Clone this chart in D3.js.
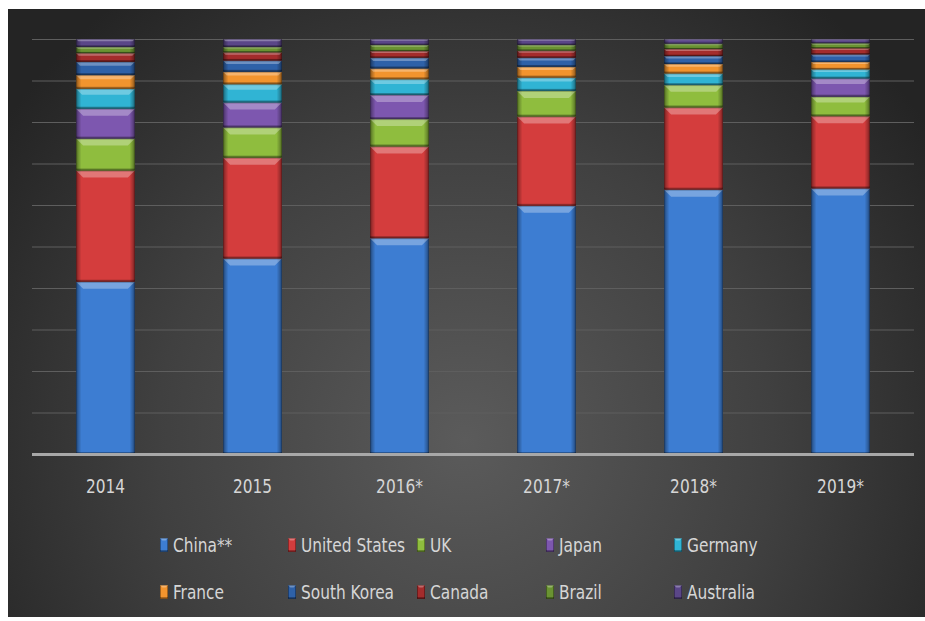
<!DOCTYPE html>
<html>
<head>
<meta charset="utf-8">
<script src="https://cdn.jsdelivr.net/npm/d3@7"></script>
<style>
  body { margin: 0; background: #fff; }
  svg text { font-family: 'DejaVu Sans Condensed', 'Liberation Sans', sans-serif; }
</style>
</head>
<body>
<div id="chart"></div>
<script>
const years = ['2014', '2015', '2016*', '2017*', '2018*', '2019*']
const countries = ['China**', 'United States', 'UK', 'Japan', 'Germany', 'France', 'South Korea', 'Canada', 'Brazil', 'Australia']

// share of each year (percent)
const china = [41.5, 47.1, 52.0, 59.8, 63.7, 64.0]
const unitedStates = [26.8, 24.3, 22.1, 21.5, 19.8, 17.4]
const uk = [7.7, 7.3, 6.6, 6.2, 5.4, 4.7]
const japan = [7.2, 6.0, 5.8, 0, 0, 4.4]
const germany = [4.8, 4.4, 3.8, 3.2, 2.8, 2.2]
const france = [3.3, 3.0, 2.6, 2.6, 2.3, 1.8]
const southKorea = [3.2, 2.7, 2.6, 2.2, 1.9, 1.8]
const canada = [2.1, 2.0, 1.6, 1.7, 1.7, 1.5]
const brazil = [1.5, 1.3, 1.5, 1.4, 1.3, 1.2]
const australia = [1.9, 1.9, 1.4, 1.4, 1.1, 1.0]

const yTicks = [0, 10, 20, 30, 40, 50, 60, 70, 80, 90, 100]

const seriesValues = [china, unitedStates, uk, japan, germany, france, southKorea, canada, brazil, australia]
const colors = ['#3d7dd2', '#d43d3d', '#8fbd3e', '#7d57af', '#30b4d4', '#f2942e', '#2e61a8', '#a42c2c', '#6a9332', '#5a4688']

const width = 925
const height = 621
const margin = { top: 39, right: 11, bottom: 167, left: 32 }

const table = years.map((yr, i) => {
  const row = { year: yr }
  countries.forEach((c, j) => { row[c] = seriesValues[j][i] })
  return row
})

const stacked = d3.stack().keys(countries)(table)

const color = d3.scaleOrdinal().domain(countries).range(colors)

const x = d3.scaleBand()
  .domain(years)
  .range([margin.left, width - margin.right])
  .paddingInner(0.6)
  .paddingOuter(0.3)

const y = d3.scaleLinear()
  .domain([0, 100])
  .range([height - margin.bottom, margin.top])

const svg = d3.select('#chart').append('svg')
  .attr('width', width)
  .attr('height', height)

const defs = svg.append('defs')

const bg = defs.append('radialGradient')
  .attr('id', 'bg')
  .attr('gradientUnits', 'userSpaceOnUse')
  .attr('cx', 465).attr('cy', 440).attr('r', 560)
bg.append('stop').attr('offset', 0).attr('stop-color', '#5b5b5b')
bg.append('stop').attr('offset', 0.55).attr('stop-color', '#404040')
bg.append('stop').attr('offset', 1).attr('stop-color', '#242424')

const side = defs.append('linearGradient')
  .attr('id', 'side')
  .attr('x1', 0).attr('x2', 1).attr('y1', 0).attr('y2', 0)
side.append('stop').attr('offset', 0).attr('stop-color', '#000').attr('stop-opacity', 0.4)
side.append('stop').attr('offset', 0.09).attr('stop-color', '#000').attr('stop-opacity', 0)
side.append('stop').attr('offset', 0.91).attr('stop-color', '#000').attr('stop-opacity', 0)
side.append('stop').attr('offset', 1).attr('stop-color', '#000').attr('stop-opacity', 0.4)

svg.append('rect')
  .attr('x', 8).attr('y', 9)
  .attr('width', width - 8).attr('height', 608)
  .attr('fill', 'url(#bg)')

// gridlines
svg.append('g')
  .selectAll('line')
  .data(yTicks.slice(1))
  .join('line')
  .attr('x1', margin.left)
  .attr('x2', width - margin.right)
  .attr('y1', d => y(d) + 0.5)
  .attr('y2', d => y(d) + 0.5)
  .attr('stroke', '#5e5e5e')
  .attr('stroke-width', 1)

const bevel = (g, bx, by, bw, bh, fill) => {
  if (bh <= 0) return
  g.append('rect')
    .attr('x', bx).attr('y', by)
    .attr('width', bw).attr('height', bh)
    .attr('fill', fill)
  g.append('rect')
    .attr('x', bx).attr('y', by)
    .attr('width', bw).attr('height', bh)
    .attr('fill', 'url(#side)')
  const b = Math.min(7, bh * 0.3, bw * 0.3)
  g.append('polygon')
    .attr('points', [[bx, by], [bx + bw, by], [bx + bw - b, by + b], [bx + b, by + b]].join(' '))
    .attr('fill', '#fff')
    .attr('fill-opacity', 0.3)
  g.append('rect')
    .attr('x', bx).attr('y', by + bh - Math.min(2, bh * 0.2))
    .attr('width', bw).attr('height', Math.min(2, bh * 0.2))
    .attr('fill', '#000')
    .attr('fill-opacity', 0.3)
  g.append('rect')
    .attr('x', bx + 0.5).attr('y', by + 0.5)
    .attr('width', bw - 1).attr('height', Math.max(0, bh - 1))
    .attr('fill', 'none')
    .attr('stroke', '#000')
    .attr('stroke-opacity', 0.25)
}

const bars = svg.append('g')
stacked.forEach(s => {
  s.forEach(d => {
    bevel(bars, x(d.data.year), y(d[1]), x.bandwidth(), y(d[0]) - y(d[1]), color(s.key))
  })
})

// baseline
svg.append('line')
  .attr('x1', margin.left)
  .attr('x2', width - margin.right)
  .attr('y1', y(0) + 0.5)
  .attr('y2', y(0) + 0.5)
  .attr('stroke', '#a8a8a8')
  .attr('stroke-width', 3)

const xAxis = svg.append('g')
  .attr('transform', `translate(0,${y(0)})`)
  .call(d3.axisBottom(x).tickSize(0).tickPadding(26))
xAxis.select('.domain').remove()
xAxis.selectAll('text')
  .attr('fill', '#d6d6d6')
  .attr('font-size', 19)
  .attr('transform', 'scale(0.9,1)')
  .style('font-family', "'DejaVu Sans Condensed', 'Liberation Sans', sans-serif")

// legend
const legendX = [160, 288, 417, 546, 674]
const legendY = [545, 592]
const legend = svg.append('g')
countries.forEach((c, i) => {
  const lx = legendX[i % 5]
  const ly = legendY[Math.floor(i / 5)]
  bevel(legend, lx, ly - 7, 8, 14, color(c))
  legend.append('text')
    .attr('transform', `translate(${lx + 13},${ly}) scale(0.9,1)`)
    .attr('dy', '0.35em')
    .attr('fill', '#d6d6d6')
    .attr('font-size', 19)
    .text(c)
})
</script>
</body>
</html>
